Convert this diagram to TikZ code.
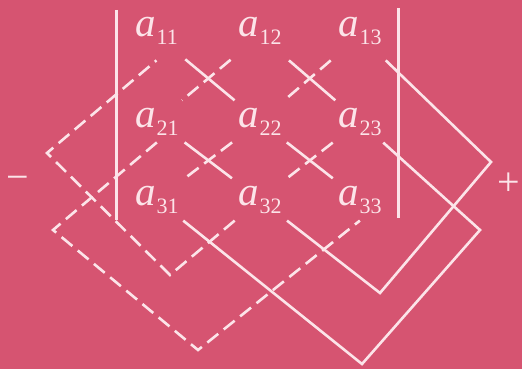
\documentclass[tikz,border=0pt]{standalone}
\usepackage{fontspec}
\setmainfont{Liberation Serif}
\usetikzlibrary{positioning}
\definecolor{detpink}{RGB}{214,84,113}
\definecolor{detline}{RGB}{252,228,233}
\newcommand{\detent}[1]{{\fontsize{20.5}{20.5}\selectfont\itshape a}\kern0.6pt\raisebox{-4pt}{\fontsize{11}{11}\selectfont #1}}
\tikzset{
  elem/.style={anchor=text, inner sep=3.5pt, text=detline},
  toprow/.style={elem, text depth=8pt},
  sign/.style={anchor=base, inner sep=0pt, text=detline, font=\fontsize{20}{20}\selectfont},
  posline/.style={draw=detline, line width=1.3pt, line join=miter},
  negline/.style={draw=detline, line width=1.3pt, dash pattern=on 7pt off 3.5pt},
  detbar/.style={draw=detline, line width=1.5pt}
}

\begin{document}
\begin{tikzpicture}[x=0.5pt, y=-0.5pt]
    \fill[detpink] (0,0) rectangle (522,369);

    % entries of the determinant
    \node[toprow] (a11) at (135,37)  {\detent{11}};
    \node[toprow] (a12) at (238,37)  {\detent{12}};
    \node[toprow] (a13) at (338,37)  {\detent{13}};
    \node[elem] (a21) at (135,127) {\detent{21}};
    \node[elem] (a22) at (238,127) {\detent{22}};
    \node[elem] (a23) at (338,127) {\detent{23}};
    \node[elem] (a31) at (135,205) {\detent{31}};
    \node[elem] (a32) at (238,205) {\detent{32}};
    \node[elem] (a33) at (338,205) {\detent{33}};

    \node[sign] (minus) at (18,190) {−};
    \node[sign] (plus)  at (509,195) {+};

    % bars
    \draw[detbar] (116,10) -- (116,220);
    \draw[detbar] (398,8) -- (398,218);

    % corners of the wrapped diagonals
    \coordinate (l1) at (47,153);
    \coordinate (d1) at (170,275);
    \coordinate (l2) at (53,230);
    \coordinate (d2) at (198,350);
    \coordinate (r1) at (491,162);
    \coordinate (b1) at (380,293);
    \coordinate (r2) at (480,230);
    \coordinate (b2) at (362,364);

    % positive terms
    \draw[posline] (a11) -- (a22);
    \draw[posline] (a22) -- (a33);
    \draw[posline] (a12) -- (a23);
    \draw[posline] (a23) -- (r2) -- (b2) -- (a31);
    \draw[posline] (a21) -- (a32);
    \draw[posline] (a32) -- (b1) -- (r1) -- (a13);

    % negative terms
    \draw[negline] (a13) -- (a22);
    \draw[negline] (a22) -- (a31);
    \draw[negline] (a12) -- (a21);
    \draw[negline] (a21.south) -- (l2) -- (d2) -- (a33.south);
    \draw[negline] (a23) -- (a32);
    \draw[negline] (a32) -- (d1) -- (l1) -- (a11.south);
\end{tikzpicture}
\end{document}
